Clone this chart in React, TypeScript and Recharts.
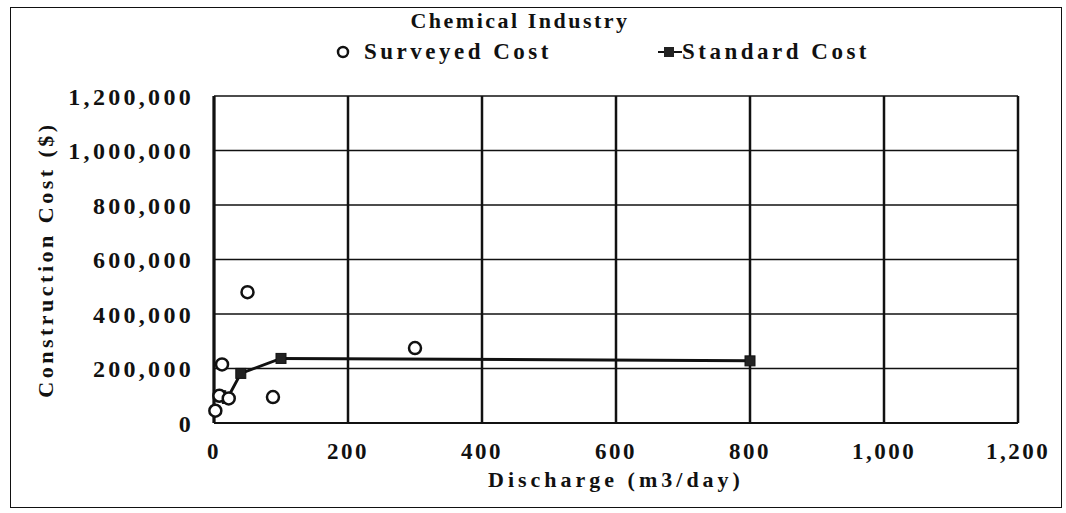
import React from 'react';
import { ScatterChart, Scatter, XAxis, YAxis, CartesianGrid, Label } from 'recharts';

// Surveyed cost points (discharge m3/day, cost $)
const surveyedDischarge = [2, 8, 12, 22, 50, 88, 300];
const surveyedCost = [45000, 100000, 215000, 90000, 480000, 95000, 275000];

// Standard cost curve
const standardDischarge = [10, 20, 40, 100, 800];
const standardCost = [100000, 90000, 182000, 237000, 228000];

const xTicks = [0, 200, 400, 600, 800, 1000, 1200];
const yTicks = [0, 200000, 400000, 600000, 800000, 1000000, 1200000];

const surveyedData = surveyedDischarge.map((x, i) => ({ x, y: surveyedCost[i] }));
const standardData = standardDischarge.map((x, i) => ({ x, y: standardCost[i] }));

const FONT = '"Liberation Serif", serif';
const INK = '#111';

const fmt = (v: number) => v.toLocaleString('en-US');

const textStyle: React.CSSProperties = {
  fontFamily: FONT,
  fontWeight: 'bold',
  fontSize: 23,
  letterSpacing: 3.5,
  color: INK,
  whiteSpace: 'nowrap',
  position: 'absolute',
  lineHeight: '24px',
};

const CircleShape = (props: any) => (
  <circle cx={props.cx} cy={props.cy} r={6} fill="#fff" stroke={INK} strokeWidth={2.5} />
);

const SquareShape = (props: any) => (
  <rect x={props.cx - 5} y={props.cy - 5} width={10} height={10} fill="#222" stroke={INK} strokeWidth={1} />
);

export default function App() {
  return (
    <div style={{ position: 'absolute', left: 0, top: 0, width: 1066, height: 513, background: '#fff' }}>
      <div
        style={{
          position: 'absolute',
          left: 10,
          top: 7,
          width: 1050,
          height: 499,
          border: `1.5px solid ${INK}`,
        }}
      />
      <ScatterChart
        width={1066}
        height={513}
        margin={{ top: 96, right: 48, bottom: 0, left: 0 }}
        style={{ position: 'absolute', left: 0, top: 0 }}
      >
        <CartesianGrid horizontal={true} vertical={false} stroke={INK} strokeWidth={1.5} />
        <CartesianGrid horizontal={false} vertical={true} stroke={INK} strokeWidth={2.5} />
        <XAxis
          type="number"
          dataKey="x"
          domain={[0, 1200]}
          ticks={xTicks}
          tickFormatter={fmt}
          height={90}
          tickSize={0}
          tickMargin={20}
          axisLine={{ stroke: INK, strokeWidth: 2 }}
          tick={{ fill: INK, fontFamily: FONT, fontWeight: 'bold', fontSize: 23, letterSpacing: 2.5 }}
          interval={0}
        >
          <Label
            value="Discharge (m3/day)"
            position="insideBottom"
            offset={26}
            style={{ fill: INK, fontFamily: FONT, fontWeight: 'bold', fontSize: 22, letterSpacing: 4 }}
          />
        </XAxis>
        <YAxis
          type="number"
          dataKey="y"
          domain={[0, 1200000]}
          ticks={yTicks}
          tickFormatter={fmt}
          width={214}
          tickSize={0}
          tickMargin={20}
          axisLine={{ stroke: INK, strokeWidth: 3 }}
          tick={{ fill: INK, fontFamily: FONT, fontWeight: 'bold', fontSize: 24, letterSpacing: 3.3 }}
          interval={0}
        >
          <Label
            value="Construction Cost ($)"
            angle={-90}
            position="insideLeft"
            offset={45}
            style={{ textAnchor: 'middle', fill: INK, fontFamily: FONT, fontWeight: 'bold', fontSize: 22, letterSpacing: 3.5 }}
          />
        </YAxis>
        <Scatter
          name="Standard Cost"
          data={standardData}
          line={{ stroke: INK, strokeWidth: 3 }}
          lineType="joint"
          shape={SquareShape}
          isAnimationActive={false}
        />
        <Scatter name="Surveyed Cost" data={surveyedData} shape={CircleShape} isAnimationActive={false} />
      </ScatterChart>
      <div style={{ ...textStyle, fontSize: 22, letterSpacing: 2.5, left: 0, width: 1040, textAlign: 'center', top: 9 }}>
        Chemical Industry
      </div>
      <svg style={{ position: 'absolute', left: 330, top: 41 }} width={360} height={22}>
        <circle cx={13} cy={11} r={5} fill="#fff" stroke={INK} strokeWidth={2.5} />
        <line x1={328} y1={11} x2={352} y2={11} stroke={INK} strokeWidth={2} />
        <rect x={334} y={6} width={10} height={10} fill="#222" />
      </svg>
      <div style={{ ...textStyle, left: 364, top: 40 }}>Surveyed Cost</div>
      <div style={{ ...textStyle, left: 682, top: 40 }}>Standard Cost</div>
    </div>
  );
}
